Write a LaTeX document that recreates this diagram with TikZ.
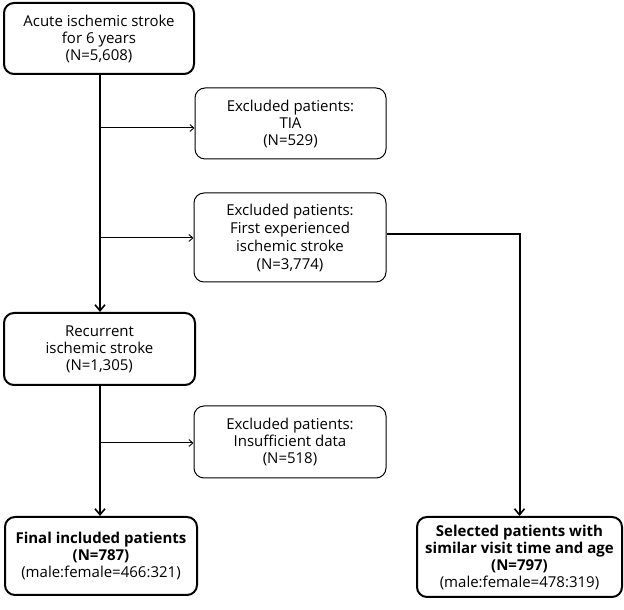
\documentclass[tikz,border=0pt]{standalone}
\usepackage{fontspec}
\setmainfont{Open Sans}
\usetikzlibrary{arrows.meta}
\begin{document}
\begin{tikzpicture}[x=1pt,y=1pt,
  box/.style={draw, rounded corners=10pt, align=center, font=\fontsize{15}{17}\selectfont, inner sep=0pt},
  mainbox/.style={box, line width=2pt},
  exbox/.style={box, line width=1pt},
  mainline/.style={line width=2pt, -{Straight Barb[length=6pt,width=10pt,line width=1.6pt]}},
  sideline/.style={line width=1pt, -{Straight Barb[length=4pt,width=7pt,line width=0.9pt]}}]
\useasboundingbox (0,0) rectangle (624,610);
\node[mainbox, minimum width=190, minimum height=71] (acute) at (99,571.5) {Acute ischemic stroke\\for 6 years\\(N=5,608)};
\node[exbox, minimum width=191, minimum height=71] (tia) at (290.5,486.5) {Excluded patients:\\TIA\\(N=529)};
\node[exbox, minimum width=192, minimum height=89, font=\fontsize{15}{18}\selectfont] (first) at (290,372.5) {Excluded patients:\\First experienced\\ischemic stroke\\(N=3,774)};
\node[mainbox, minimum width=191, minimum height=72] (rec) at (99.5,261) {Recurrent\\ischemic stroke\\(N=1,305)};
\node[exbox, minimum width=192, minimum height=72] (insuf) at (290,168) {Excluded patients:\\Insufficient data\\(N=518)};
\node[mainbox, minimum width=192, minimum height=78] (final) at (101,54) {\textbf{Final included patients}\\\textbf{(N=787)}\\(male:female=466:321)};
\node[mainbox, minimum width=205, minimum height=80] (sel) at (519.5,53) {\textbf{Selected patients with}\\\textbf{similar visit time and age}\\\textbf{(N=797)}\\(male:female=478:319)};
\coordinate (j1) at (100,482);
\coordinate (j2) at (100,372);
\coordinate (j3) at (100,167);
\draw[mainline] (acute.south -| j1) -- (rec.north -| j1);
\draw[mainline] (rec.south -| j1) -- (final.north -| j1);
\draw[sideline] (j1) -- (j1 -| tia.west);
\draw[sideline] (j2) -- (j2 -| first.west);
\draw[sideline] (j3) -- (j3 -| insuf.west);
\draw[mainline] ([yshift=3pt]first.east) -| (sel.north);
\end{tikzpicture}
\end{document}
